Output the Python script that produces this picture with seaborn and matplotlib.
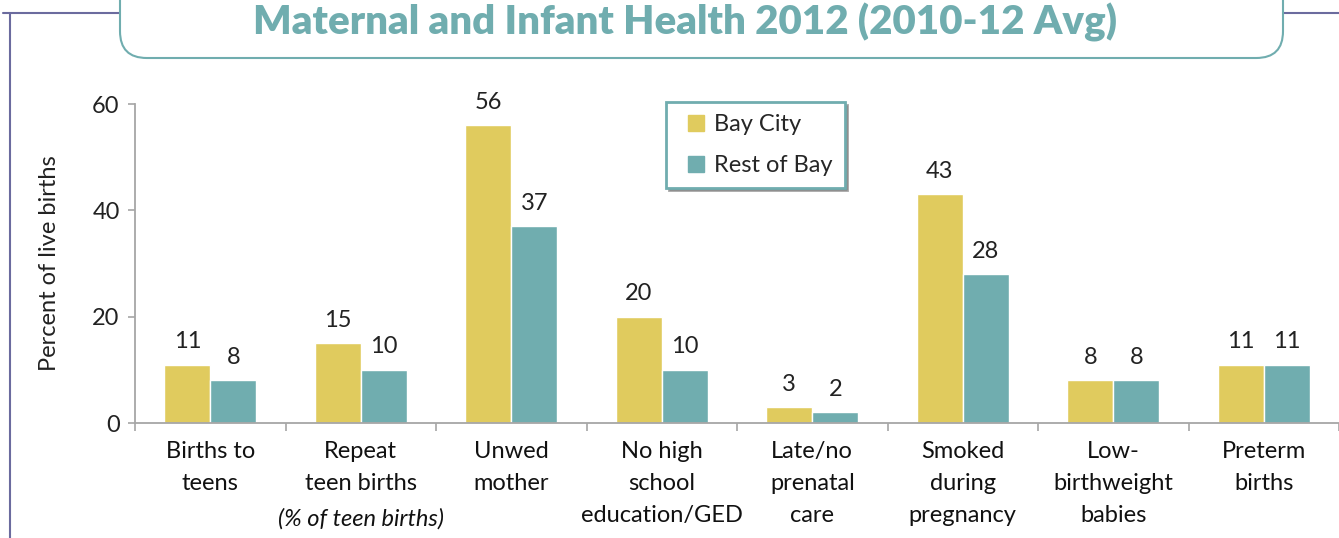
import pandas as pd
import seaborn as sns
import matplotlib.pyplot as plt
from matplotlib.patches import FancyBboxPatch
from matplotlib.lines import Line2D

# Data
categories = ['Births to\nteens', 'Repeat\nteen births', 'Unwed\nmother',
              'No high\nschool\neducation/GED', 'Late/no\nprenatal\ncare',
              'Smoked\nduring\npregnancy', 'Low-\nbirthweight\nbabies', 'Preterm\nbirths']
bay_city = [11, 15, 56, 20, 3, 43, 8, 11]
rest_of_bay = [8, 10, 37, 10, 2, 28, 8, 11]
series = ['Bay City', 'Rest of Bay']
colors = ['#E0CB5E', '#70ADAF']

df = pd.DataFrame({
    'category': categories * 2,
    'value': bay_city + rest_of_bay,
    'area': [series[0]] * len(categories) + [series[1]] * len(categories),
})

sns.set_style('white')
plt.rcParams['font.family'] = ['Lato', 'DejaVu Sans']

W, H = 1339, 538
fig = plt.figure(figsize=(W / 100, H / 100), dpi=100)
ax = fig.add_axes([135 / W, (H - 423) / H, (W - 135) / W, (423 - 104) / H])

sns.barplot(data=df, x='category', y='value', hue='area', palette=colors,
            width=0.61, saturation=1, ax=ax, legend=False)

for cont in ax.containers:
    ax.bar_label(cont, fmt='%d', padding=9, fontsize=17, color='#222222')

ax.set_ylim(0, 60)
ax.set_xlim(-0.5, 7.47)
ax.set_yticks([0, 20, 40, 60])
ax.set_xlabel('')
ax.set_ylabel('Percent of live births', fontsize=17, color='#222222')
ax.yaxis.set_label_coords(-0.062, 0.5)

grey = '#A6A6A6'
for s in ['top', 'right']:
    ax.spines[s].set_visible(False)
for s in ['left', 'bottom']:
    ax.spines[s].set_color(grey)
    ax.spines[s].set_linewidth(1.3)

ax.tick_params(axis='y', which='major', direction='out', length=5, width=1.2,
               color=grey, labelsize=17, labelcolor='#222222', pad=6, left=True)
ax.tick_params(axis='x', which='major', length=0, labelsize=17,
               labelcolor='#111111', pad=13)
ax.set_xticks([i + 0.5 for i in range(-1, 8)], minor=True)
ax.tick_params(axis='x', which='minor', direction='out', length=6, width=1.2,
               color=grey, bottom=True)
for lab in ax.get_xticklabels():
    lab.set_linespacing(1.65)

# italic third line under "Repeat teen births"
ax.annotate('(% of teen births)', xy=(1, 0), xycoords='data',
            xytext=(0, -61), textcoords='offset points', ha='center', va='top',
            fontsize=17, style='italic', color='#111111')

# legend with square markers
handles = [Line2D([], [], linestyle='none', marker='s', markersize=11,
                  markerfacecolor=c, markeredgecolor=c) for c in colors]
leg = ax.legend(handles, series, loc='upper left',
                bbox_to_anchor=(666 / W, (H - 102) / H),
                bbox_transform=fig.transFigure, borderaxespad=0, fontsize=17,
                frameon=True, fancybox=False, shadow=True, handlelength=1.5,
                handletextpad=0.05, labelspacing=0.85, borderpad=0.5)
leg.get_frame().set_edgecolor('#70ADAF')
leg.get_frame().set_linewidth(2)

# page decoration lines and title box
line_col = '#6B6B9E'
fig.add_artist(Line2D([3 / W, 1], [(H - 13) / H] * 2, color=line_col, lw=1.5,
                      transform=fig.transFigure))
fig.add_artist(Line2D([10 / W] * 2, [0, (H - 13) / H], color=line_col, lw=1.5,
                      transform=fig.transFigure))
box = FancyBboxPatch((120 / W, (H - 58) / H), (1283 - 120) / W, 0.2,
                     boxstyle='round,pad=0,rounding_size=0.02',
                     transform=fig.transFigure, facecolor='white',
                     edgecolor='#70ADAF', linewidth=1.5, zorder=3,
                     mutation_aspect=W / H)
fig.add_artist(box)
fig.text(685 / W, (H - 22) / H, 'Maternal and Infant Health 2012 (2010-12 Avg)',
         ha='center', va='center', fontsize=29, fontweight='heavy',
         color='#70ADAF', zorder=4)

fig.savefig('out.png', dpi=100)
